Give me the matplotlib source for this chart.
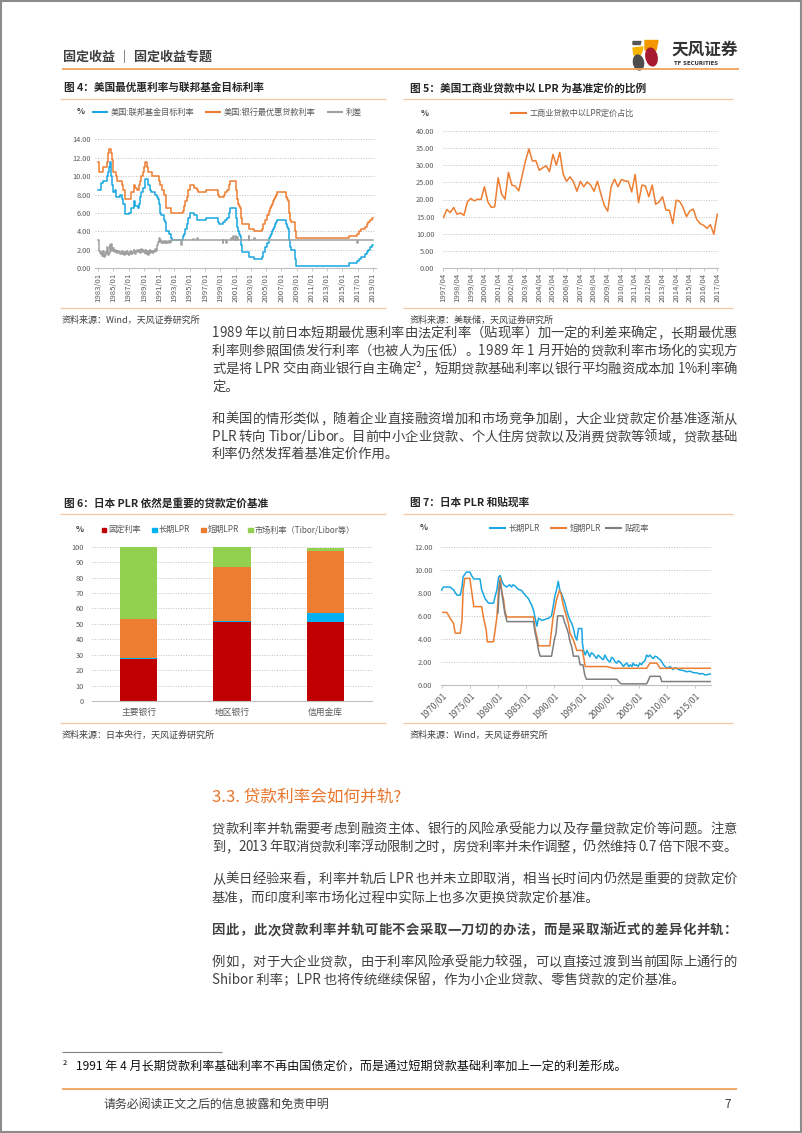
import matplotlib
matplotlib.use('Agg')
import matplotlib.pyplot as plt
from matplotlib.patches import Rectangle, Ellipse, Polygon

plt.rcParams['font.family'] = ['Noto Sans CJK SC', 'DejaVu Sans']
plt.rcParams['axes.unicode_minus'] = False

W, H = 802, 1133

########## 数据 ##########

# 图4 美国：联邦基金目标利率 / 银行最优惠贷款利率（变动点）
us_fed = [('1983-01', 8.5), ('1983-05', 8.75), ('1983-06', 9.25), ('1983-08', 9.5),
          ('1984-03', 10.0), ('1984-04', 10.5), ('1984-06', 11.0), ('1984-08', 11.5),
          ('1984-10', 10.0), ('1984-11', 9.0), ('1984-12', 8.25), ('1985-03', 8.5),
          ('1985-05', 7.75), ('1985-12', 8.0), ('1986-03', 7.5), ('1986-04', 7.0),
          ('1986-07', 6.5), ('1986-08', 5.875), ('1987-01', 6.0), ('1987-04', 6.5),
          ('1987-09', 7.25), ('1987-11', 6.75), ('1988-03', 6.5), ('1988-05', 7.0),
          ('1988-07', 7.75), ('1988-09', 8.25), ('1988-12', 8.75), ('1989-02', 9.75),
          ('1989-07', 9.0), ('1989-10', 8.5), ('1989-12', 8.25), ('1990-07', 8.0),
          ('1990-10', 7.75), ('1990-11', 7.5), ('1990-12', 7.0), ('1991-02', 6.25),
          ('1991-03', 6.0), ('1991-04', 5.75), ('1991-08', 5.5), ('1991-09', 5.25),
          ('1991-10', 5.0), ('1991-11', 4.5), ('1991-12', 4.0), ('1992-04', 3.75),
          ('1992-07', 3.25), ('1992-09', 3.0), ('1994-02', 3.25), ('1994-03', 3.5),
          ('1994-04', 3.75), ('1994-05', 4.25), ('1994-08', 4.75), ('1994-11', 5.5),
          ('1995-02', 6.0), ('1995-07', 5.75), ('1995-12', 5.5), ('1996-01', 5.25),
          ('1997-03', 5.5), ('1998-09', 5.25), ('1998-10', 5.0), ('1998-11', 4.75),
          ('1999-06', 5.0), ('1999-08', 5.25), ('1999-11', 5.5), ('2000-02', 5.75),
          ('2000-03', 6.0), ('2000-05', 6.5), ('2001-01', 5.5), ('2001-03', 5.0),
          ('2001-04', 4.5), ('2001-05', 4.0), ('2001-06', 3.75), ('2001-08', 3.5),
          ('2001-09', 3.0), ('2001-10', 2.5), ('2001-11', 2.0), ('2001-12', 1.75),
          ('2002-11', 1.25), ('2003-06', 1.0), ('2004-06', 1.25), ('2004-08', 1.5),
          ('2004-09', 1.75), ('2004-11', 2.0), ('2004-12', 2.25), ('2005-02', 2.5),
          ('2005-03', 2.75), ('2005-05', 3.0), ('2005-06', 3.25), ('2005-08', 3.5),
          ('2005-09', 3.75), ('2005-11', 4.0), ('2005-12', 4.25), ('2006-01', 4.5),
          ('2006-03', 4.75), ('2006-05', 5.0), ('2006-06', 5.25), ('2007-09', 4.75),
          ('2007-10', 4.5), ('2007-12', 4.25), ('2008-01', 3.0), ('2008-03', 2.25),
          ('2008-04', 2.0), ('2008-10', 1.0), ('2008-12', 0.25), ('2015-12', 0.5),
          ('2016-12', 0.75), ('2017-03', 1.0), ('2017-06', 1.25), ('2017-12', 1.5),
          ('2018-03', 1.75), ('2018-06', 2.0), ('2018-09', 2.25), ('2018-12', 2.5),
          ('2019-01', 2.5)]

us_prime = [('1983-01', 11.5), ('1983-02', 11.0), ('1983-03', 10.5), ('1983-08', 11.0),
            ('1984-03', 11.5), ('1984-04', 12.0), ('1984-05', 12.5), ('1984-06', 13.0),
            ('1984-09', 12.75), ('1984-10', 12.5), ('1984-11', 11.75), ('1984-12', 10.75),
            ('1985-01', 10.5), ('1985-05', 10.0), ('1985-06', 9.5), ('1986-03', 9.0),
            ('1986-04', 8.5), ('1986-07', 8.0), ('1986-08', 7.5), ('1987-04', 7.75),
            ('1987-05', 8.25), ('1987-09', 8.75), ('1987-10', 9.0), ('1987-11', 8.75),
            ('1988-02', 8.5), ('1988-05', 9.0), ('1988-07', 9.5), ('1988-08', 10.0),
            ('1988-11', 10.5), ('1989-01', 11.0), ('1989-02', 11.5), ('1989-06', 11.0),
            ('1989-07', 10.5), ('1990-01', 10.0), ('1991-01', 9.5), ('1991-02', 9.0),
            ('1991-05', 8.5), ('1991-09', 8.0), ('1991-11', 7.5), ('1991-12', 6.5),
            ('1992-07', 6.0), ('1994-03', 6.25), ('1994-04', 6.75), ('1994-05', 7.25),
            ('1994-08', 7.75), ('1994-11', 8.5), ('1995-02', 9.0), ('1995-07', 8.75),
            ('1995-12', 8.5), ('1996-02', 8.25), ('1997-03', 8.5), ('1998-09', 8.25),
            ('1998-10', 8.0), ('1998-11', 7.75), ('1999-07', 8.0), ('1999-08', 8.25),
            ('1999-11', 8.5), ('2000-02', 8.75), ('2000-03', 9.0), ('2000-05', 9.5),
            ('2001-01', 9.0), ('2001-02', 8.5), ('2001-03', 8.0), ('2001-04', 7.5),
            ('2001-05', 7.0), ('2001-06', 6.75), ('2001-08', 6.5), ('2001-09', 6.0),
            ('2001-10', 5.5), ('2001-11', 5.0), ('2001-12', 4.75), ('2002-11', 4.25),
            ('2003-06', 4.0), ('2004-06', 4.25), ('2004-08', 4.5), ('2004-09', 4.75),
            ('2004-11', 5.0), ('2004-12', 5.25), ('2005-02', 5.5), ('2005-03', 5.75),
            ('2005-05', 6.0), ('2005-06', 6.25), ('2005-08', 6.5), ('2005-09', 6.75),
            ('2005-11', 7.0), ('2005-12', 7.25), ('2006-01', 7.5), ('2006-03', 7.75),
            ('2006-05', 8.0), ('2006-06', 8.25), ('2007-09', 7.75), ('2007-10', 7.5),
            ('2007-12', 7.25), ('2008-01', 6.0), ('2008-03', 5.25), ('2008-04', 5.0),
            ('2008-10', 4.0), ('2008-12', 3.25), ('2015-12', 3.5), ('2016-12', 3.75),
            ('2017-03', 4.0), ('2017-06', 4.25), ('2017-12', 4.5), ('2018-03', 4.75),
            ('2018-06', 5.0), ('2018-09', 5.25), ('2018-12', 5.5), ('2019-01', 5.5)]

# 利差：1983/01-1992/12 逐月
us_spread_early = [
    3.0, 2.4, 1.9, 1.6, 1.5, 1.7, 1.3, 1.5, 1.8, 1.6, 1.2, 1.4,
    1.7, 1.6, 2.3, 1.9, 1.4, 1.6, 2.5, 2.2, 1.9, 2.6, 2.1, 1.8,
    2.2, 1.9, 1.7, 2.0, 1.8, 1.6, 1.9, 1.7, 1.8, 1.6, 1.7, 1.5,
    1.6, 1.8, 1.5, 1.7, 1.6, 1.4, 1.7, 1.5, 1.6, 1.8, 1.5, 1.6,
    1.4, 1.7, 1.5, 1.8, 1.6, 1.5, 1.7, 1.6, 2.0, 1.8, 1.5, 1.7,
    1.9, 2.0, 1.7, 1.9, 1.8, 2.0, 1.6, 1.9, 2.1, 1.8, 1.7, 2.0,
    1.8, 1.6, 1.9, 2.0, 1.5, 1.9, 1.7, 1.4, 1.8, 2.0, 1.6, 1.9,
    1.7, 1.9, 1.6, 1.8, 1.7, 1.9, 2.1, 1.9, 2.2, 2.5, 2.8, 3.0,
    3.3, 2.8, 3.1, 2.9, 2.7, 2.8, 2.7, 2.9, 2.8, 2.7, 2.9, 2.8,
    2.7, 2.8, 2.9, 2.8, 2.7, 2.9, 2.8, 3.0, 3.0, 3.0, 3.0, 3.0]
us_spread_late = [('1993-01', 3.0), ('1993-12', 2.5), ('1994-01', 3.0), ('1995-06', 3.2),
                  ('1995-07', 3.0), ('1996-01', 3.25), ('1996-02', 3.0), ('1999-05', 2.75),
                  ('1999-06', 3.0), ('1999-10', 2.75), ('1999-11', 3.0), ('2000-06', 3.3),
                  ('2000-07', 3.0), ('2000-09', 3.5), ('2000-10', 3.0), ('2001-01', 3.5),
                  ('2001-02', 3.0), ('2001-04', 3.4), ('2001-05', 3.0), ('2002-10', 3.5),
                  ('2002-11', 3.0), ('2003-06', 3.3), ('2003-07', 3.0), ('2016-12', 2.7),
                  ('2017-01', 3.0), ('2019-01', 3.0)]

# 图5 工商业贷款中以LPR定价占比（季度，1997/04 起）
lpr_share = [14.7, 17.1, 16.2, 17.7, 15.7, 16.1, 15.4, 19.3, 20.3, 19.6,
             20.1, 20.0, 23.7, 19.3, 17.7, 17.9, 26.3, 21.6, 20.1, 27.9,
             24.2, 23.9, 22.5, 26.9, 31.3, 34.7, 31.2, 31.3, 28.5, 29.2,
             29.8, 28.1, 33.1, 30.0, 33.7, 27.3, 25.3, 26.6, 25.1, 22.4,
             25.3, 23.7, 25.1, 24.2, 22.4, 25.3, 21.6, 18.3, 16.6, 23.7,
             25.9, 23.7, 25.8, 25.4, 25.3, 22.2, 27.3, 19.1, 24.2, 23.9,
             20.8, 24.2, 18.6, 19.3, 20.8, 16.9, 16.9, 13.0, 19.8, 19.5,
             17.7, 15.0, 16.7, 17.2, 14.2, 13.0, 12.5, 11.6, 12.7, 9.9,
             15.7]
lpr_labels = ['%d/04' % y for y in range(1997, 2018)]

# 图6 日本贷款定价基准构成
banks = ['主要银行', '地区银行', '信用金库']
fixed_rate = [27, 51, 51]
long_lpr = [1, 1, 6]
short_lpr = [25, 35, 40]
market_rate = [47, 13, 2]

# 图7 日本 PLR 和贴现率（年份小数, 值）
jp_long = [(1970.0, 8.25), (1970.3, 8.5), (1971.5, 8.5), (1972.1, 8.25), (1972.7, 7.8),
           (1973.3, 7.8), (1973.6, 8.5), (1973.8, 9.4), (1974.4, 9.8), (1975.0, 9.8),
           (1975.3, 9.5), (1975.7, 9.2), (1976.8, 9.2), (1977.1, 8.25), (1977.7, 7.5),
           (1978.3, 7.1), (1979.2, 7.1), (1979.5, 7.7), (1979.8, 8.25), (1980.1, 9.35),
           (1980.4, 9.5), (1980.7, 9.0), (1981.0, 8.7), (1981.5, 8.5), (1982.1, 8.7),
           (1982.4, 8.5), (1982.7, 8.7), (1983.0, 8.6), (1983.6, 8.3), (1984.2, 8.2),
           (1984.8, 7.8), (1985.4, 7.5), (1985.7, 7.2), (1986.0, 6.9), (1986.3, 6.5),
           (1986.6, 5.8), (1986.9, 5.1), (1987.2, 5.8), (1987.8, 5.6), (1989.0, 5.8),
           (1989.5, 6.0), (1989.8, 6.8), (1990.1, 7.7), (1990.4, 8.25), (1990.7, 9.0),
           (1991.0, 8.2), (1991.3, 7.9), (1991.6, 7.5), (1991.9, 7.1), (1992.2, 6.5),
           (1992.5, 6.0), (1992.8, 5.6), (1993.1, 5.35), (1993.4, 4.9), (1993.7, 4.2),
           (1994.0, 3.9), (1994.3, 4.9), (1994.9, 4.9), (1995.0, 3.6), (1995.2, 3.0),
           (1995.5, 2.6), (1995.8, 3.0), (1996.1, 2.7), (1996.3, 2.45), (1996.6, 2.8),
           (1996.9, 2.7), (1997.2, 2.5), (1997.5, 2.3), (1997.8, 2.6), (1998.1, 2.45),
           (1998.4, 2.3), (1998.7, 2.2), (1999.0, 2.6), (1999.3, 2.3), (1999.6, 2.1),
           (1999.9, 2.0), (2000.2, 2.4), (2000.5, 2.3), (2000.8, 2.0), (2001.1, 1.9),
           (2001.4, 2.1), (2001.7, 2.0), (2002.0, 1.8), (2002.3, 1.6), (2002.6, 1.8),
           (2002.9, 1.9), (2003.2, 1.6), (2003.5, 1.75), (2003.8, 1.6), (2004.0, 1.9),
           (2004.3, 1.7), (2004.6, 1.75), (2004.9, 1.6), (2005.2, 1.9), (2005.5, 1.75),
           (2005.8, 2.0), (2006.1, 2.1), (2006.4, 2.6), (2006.7, 2.45), (2007.0, 2.6),
           (2007.3, 2.4), (2007.6, 2.3), (2007.9, 2.5), (2008.2, 2.45), (2008.5, 2.3),
           (2008.8, 2.2), (2009.1, 2.0), (2009.4, 1.75), (2009.7, 1.6), (2010.0, 1.45),
           (2010.6, 1.6), (2011.1, 1.35), (2011.5, 1.5), (2012.3, 1.3), (2013.0, 1.25),
           (2013.5, 1.15), (2014.1, 1.2), (2014.7, 1.07), (2015.3, 1.05), (2015.9, 0.95),
           (2016.3, 1.0), (2016.8, 0.87), (2017.7, 0.95)]
jp_short = [(1970.2, 6.3), (1970.9, 6.3), (1971.5, 5.8), (1972.1, 5.35), (1972.4, 4.5),
            (1973.3, 4.5), (1973.6, 5.6), (1973.8, 8.2), (1974.1, 9.25), (1975.0, 9.25),
            (1975.3, 8.2), (1975.7, 6.8), (1977.1, 6.8), (1977.4, 5.9), (1977.9, 4.8),
            (1978.1, 3.75), (1979.2, 3.75), (1979.5, 4.8), (1979.8, 5.9), (1980.1, 8.2),
            (1980.4, 9.3), (1980.7, 8.0), (1981.0, 7.4), (1981.2, 6.5), (1981.5, 5.9),
            (1986.3, 5.9), (1986.6, 4.8), (1986.9, 4.2), (1987.2, 3.4), (1989.2, 3.4),
            (1989.5, 4.7), (1989.8, 5.9), (1990.4, 7.4), (1990.9, 8.2), (1991.2, 7.9),
            (1991.6, 6.9), (1992.2, 5.9), (1992.5, 5.35), (1992.8, 4.5), (1993.4, 3.9),
            (1994.0, 3.0), (1995.0, 3.0), (1995.5, 1.6), (1999.3, 1.6), (2000.5, 1.45),
            (2006.4, 1.45), (2007.0, 1.9), (2008.2, 1.9), (2008.8, 1.45), (2017.7, 1.45)]
jp_discount = [(1980.0, 6.25), (1980.1, 7.25), (1980.3, 9.0), (1980.6, 8.25), (1980.9, 7.25),
               (1981.2, 6.25), (1981.6, 5.5), (1986.3, 5.5), (1986.6, 4.5), (1986.9, 3.9),
               (1987.2, 3.0), (1987.5, 2.5), (1989.5, 2.5), (1989.8, 3.3), (1990.0, 3.9),
               (1990.3, 4.5), (1990.6, 6.0), (1991.5, 6.0), (1991.8, 5.5), (1992.1, 5.1),
               (1992.5, 4.5), (1992.8, 3.75), (1993.1, 3.3), (1993.4, 2.5), (1994.3, 2.5),
               (1994.6, 1.75), (1995.1, 1.75), (1995.4, 0.9), (1995.7, 0.5), (2001.1, 0.5),
               (2001.4, 0.3), (2001.9, 0.1), (2006.4, 0.1), (2006.7, 0.4), (2007.0, 0.75),
               (2008.8, 0.75), (2009.1, 0.3), (2017.7, 0.3)]

########## 正文 ##########

para_lines = [  # (文字, y, 两端对齐, 粗体)
    ('1989 年以前日本短期最优惠利率由法定利率（贴现率）加一定的利差来确定，长期最优惠', 333, True, False),
    ('利率则参照国债发行利率（也被人为压低）。1989 年 1 月开始的贷款利率市场化的实现方', 351, True, False),
    ('式是将 LPR 交由商业银行自主确定²，短期贷款基础利率以银行平均融资成本加 1%利率确', 369, True, False),
    ('定。', 387, False, False),
    ('和美国的情形类似，随着企业直接融资增加和市场竞争加剧，大企业贷款定价基准逐渐从', 419, True, False),
    ('PLR 转向 Tibor/Libor。目前中小企业贷款、个人住房贷款以及消费贷款等领域，贷款基础', 437, True, False),
    ('利率仍然发挥着基准定价作用。', 455, False, False),
    ('贷款利率并轨需要考虑到融资主体、银行的风险承受能力以及存量贷款定价等问题。注意', 829, True, False),
    ('到，2013 年取消贷款利率浮动限制之时，房贷利率并未作调整，仍然维持 0.7 倍下限不变。', 847, True, False),
    ('从美日经验来看，利率并轨后 LPR 也并未立即取消，相当长时间内仍然是重要的贷款定价', 879, True, False),
    ('基准，而印度利率市场化过程中实际上也多次更换贷款定价基准。', 898, False, False),
    ('因此，此次贷款利率并轨可能不会采取一刀切的办法，而是采取渐近式的差异化并轨：', 930, True, True),
    ('例如，对于大企业贷款，由于利率风险承受能力较强，可以直接过渡到当前国际上通行的', 962, True, False),
    ('Shibor 利率；LPR 也将传统继续保留，作为小企业贷款、零售贷款的定价基准。', 980, False, False),
]

########## 画图 ##########

BLUE = '#1AA7E0'
ORANGE = '#ED7D31'
GRID = '#BFBFBF'
TICK = '#595959'
TXT = '#404040'
LINE_LIGHT = '#F4C7A1'


def ym(s):
    y, m = s.split('-')
    return int(y) + (int(m) - 1) / 12.0


fig = plt.figure(figsize=(W / 100, H / 100), dpi=100)
pg = fig.add_axes([0, 0, 1, 1])
pg.set_xlim(0, W)
pg.set_ylim(H, 0)
pg.axis('off')
r = fig.canvas.get_renderer()


def chart_axes(x0, y0, x1, y1):
    ax = fig.add_axes([x0 / W, 1 - y1 / H, (x1 - x0) / W, (y1 - y0) / H])
    ax.set_facecolor('none')
    for s in ('left', 'right', 'top'):
        ax.spines[s].set_visible(False)
    ax.spines['bottom'].set_color(GRID)
    ax.spines['bottom'].set_linewidth(0.8)
    ax.yaxis.grid(True, color=GRID, linestyle=(0, (1, 1.6)), linewidth=0.7)
    ax.set_axisbelow(True)
    ax.tick_params(axis='y', length=0, pad=3, labelsize=5.3, labelcolor=TICK)
    ax.tick_params(axis='x', length=2.5, width=0.6, color=GRID, pad=1,
                   labelsize=5.6, labelcolor=TICK)
    return ax


def hline(x0, x1, y, color, lw):
    pg.plot([x0, x1], [y, y], color=color, lw=lw, solid_capstyle='butt')


def text_w(s, size, weight):
    t = pg.text(0, 0, s, fontsize=size, fontweight=weight)
    w = t.get_window_extent(renderer=r).width
    t.remove()
    return w


def body_line(s, y, justify, bold, x0=212, x1=737, size=9.6, color=TXT):
    weight = 'bold' if bold else 'normal'
    if not justify:
        pg.text(x0, y, s, fontsize=size, fontweight=weight, color=color, va='center')
        return
    bar = text_w('|', size, weight)
    lefts = [0.0] + [text_w(s[:i] + '|', size, weight) - bar for i in range(1, len(s))]
    total = text_w(s, size, weight)
    gap = (x1 - x0 - total) / (len(s) - 1)
    for i, ch in enumerate(s):
        if ch != ' ':
            pg.text(x0 + lefts[i] + i * gap, y, ch, fontsize=size, fontweight=weight,
                    color=color, va='center')


# 页面边框
pg.add_patch(Rectangle((0.8, 0.8), W - 1.6, H - 1.6, fill=False, ec='#8C8C8C', lw=1.5))

# 页眉
pg.text(63, 57, '固定收益 ｜ 固定收益专题', fontsize=9.4, fontweight='bold', color=TXT, va='center')
hline(62, 739, 68.5, '#EFA25A', 1.3)
pg.add_patch(Polygon([(633, 41.5), (641, 41.5), (640, 44.5), (633, 44.5)], color='#555555'))
pg.add_patch(Polygon([(645, 40.5), (658, 40.5), (656, 50), (645, 50)], color='#F39800'))
pg.add_patch(Polygon([(633, 48), (643, 47), (641, 54), (634, 55)], color='#F7B500'))
pg.add_patch(Ellipse((638.5, 62.5), 10, 15, angle=-10, color='#4D4D4D'))
pg.add_patch(Ellipse((651.5, 57), 11, 18, angle=-12, color='#A6192E'))
pg.text(671, 50, '天风证券', fontsize=12, fontweight='bold', color='#333333', va='center')
pg.text(674, 63.5, 'TF SECURITIES', fontsize=3.9, fontweight='bold', color='#333333',
        va='center', family='DejaVu Sans')

# 图标题、分隔线、来源
for x, y, t in [(64, 88, '图 4：美国最优惠利率与联邦基金目标利率'),
                (410, 88, '图 5：美国工商业贷款中以 LPR 为基准定价的比例'),
                (64, 503, '图 6：日本 PLR 依然是重要的贷款定价基准'),
                (410, 503, '图 7：日本 PLR 和贴现率')]:
    pg.text(x, y, t, fontsize=7.7, fontweight='bold', color='#262626', va='center')
for y in (99, 514, 308, 723):
    hline(60, 386, y, LINE_LIGHT, 0.9)
    hline(403, 733, y, LINE_LIGHT, 0.9)
for x, y, t in [(62, 320, '资料来源：Wind，天风证券研究所'),
                (410, 320, '资料来源：美联储，天风证券研究所'),
                (62, 735, '资料来源：日本央行，天风证券研究所'),
                (410, 735, '资料来源：Wind，天风证券研究所')]:
    pg.text(x, y, t, fontsize=6.5, color=TXT, va='center')

# ---- 图4 ----
ax4 = chart_axes(95, 139.5, 376, 268)
ax4.step([ym(d) for d, v in us_fed], [v for d, v in us_fed], where='post', color=BLUE, lw=1.1)
ax4.step([ym(d) for d, v in us_prime], [v for d, v in us_prime], where='post', color=ORANGE, lw=1.1)
sx = [1983 + i / 12.0 for i in range(len(us_spread_early))] + [ym(d) for d, v in us_spread_late]
sy = us_spread_early + [v for d, v in us_spread_late]
ax4.step(sx, sy, where='post', color='#A0A0A0', lw=1.1)
ax4.set_xlim(1982.6, 2019.4)
ax4.set_ylim(0, 14)
ax4.set_yticks(range(0, 15, 2))
ax4.set_yticklabels(['%.2f' % v for v in range(0, 15, 2)])
ax4.set_xticks(range(1983, 2020, 2))
ax4.set_xticklabels(['%d/01' % y for y in range(1983, 2020, 2)], rotation=90)

pg.text(77, 112, '%', fontsize=6, fontweight='bold', color=TXT, va='center')
for x0, c, t in [(92, BLUE, '美国:联邦基金目标利率'), (205, ORANGE, '美国:银行最优惠贷款利率'),
                 (327, '#A0A0A0', '利差')]:
    hline(x0, x0 + 16, 112, c, 1.5)
    pg.text(x0 + 18.5, 112, t, fontsize=5.9, color=TICK, va='center')

# ---- 图5 ----
ax5 = chart_axes(442.7, 130.7, 718.3, 268.3)
ax5.plot(range(len(lpr_share)), lpr_share, color=ORANGE, lw=1.1)
ax5.set_xlim(-0.2, 80.3)
ax5.set_ylim(0, 40)
ax5.set_yticks(range(0, 41, 5))
ax5.set_yticklabels(['%.2f' % v for v in range(0, 41, 5)])
ax5.tick_params(axis='y', pad=6)
ax5.set_xticks(range(0, 81, 4))
ax5.set_xticklabels(lpr_labels, rotation=90)

pg.text(421, 113, '%', fontsize=6, fontweight='bold', color=TXT, va='center')
hline(510, 527, 113, ORANGE, 1.5)
pg.text(529.5, 113, '工商业贷款中以LPR定价占比', fontsize=5.9, color=TICK, va='center')

# ---- 图6 ----
ax6 = chart_axes(92, 546.7, 372, 701)
pos = range(len(banks))
b1 = [a + b for a, b in zip(fixed_rate, long_lpr)]
b2 = [a + b for a, b in zip(b1, short_lpr)]
ax6.bar(pos, fixed_rate, width=0.4, color='#C00000')
ax6.bar(pos, long_lpr, width=0.4, bottom=fixed_rate, color='#00B0F0')
ax6.bar(pos, short_lpr, width=0.4, bottom=b1, color=ORANGE)
ax6.bar(pos, market_rate, width=0.4, bottom=b2, color='#92D050')
ax6.set_xlim(-0.5, 2.5)
ax6.set_ylim(0, 100)
ax6.set_yticks(range(0, 101, 10))
ax6.tick_params(axis='y', pad=6)
ax6.set_xticks(list(pos))
ax6.set_xticklabels(banks)
ax6.tick_params(axis='x', length=0, pad=5, labelsize=6.3)

pg.text(76, 530, '%', fontsize=6, fontweight='bold', color=TXT, va='center')
for x0, c, t in [(101.5, '#C00000', '固定利率'), (152, '#00B0F0', '长期LPR'),
                 (201, ORANGE, '短期LPR'), (248, '#92D050', '市场利率（Tibor/Libor等）')]:
    pg.add_patch(Rectangle((x0, 527.5), 4.5, 4.5, color=c))
    pg.text(x0 + 6.5, 529.5, t, fontsize=5.9, color=TICK, va='center')

# ---- 图7 ----
ax7 = chart_axes(440.7, 546.7, 710.5, 685)
ax7.plot([a for a, b in jp_long], [b for a, b in jp_long], color=BLUE, lw=1.1)
ax7.plot([a for a, b in jp_short], [b for a, b in jp_short], color=ORANGE, lw=1.1)
ax7.plot([a for a, b in jp_discount], [b for a, b in jp_discount], color='#7F7F7F', lw=1.1)
ax7.set_xlim(1969.82, 2017.75)
ax7.set_ylim(0, 12)
ax7.set_yticks(range(0, 13, 2))
ax7.set_yticklabels(['%.2f' % v for v in range(0, 13, 2)])
ax7.tick_params(axis='y', pad=6)
ax7.set_xticks(range(1970, 2016, 5))
ax7.set_xticklabels(['%d/01' % y for y in range(1970, 2016, 5)], rotation=45,
                    ha='right', va='top', rotation_mode='anchor')
ax7.tick_params(axis='x', labelsize=6.3, pad=2)

pg.text(420, 528, '%', fontsize=6, fontweight='bold', color=TXT, va='center')
for x0, c, t in [(489, BLUE, '长期PLR'), (550, ORANGE, '短期PLR'), (605, '#7F7F7F', '贴现率')]:
    hline(x0, x0 + 17, 528, c, 1.5)
    pg.text(x0 + 19.5, 528, t, fontsize=5.9, color=TICK, va='center')

# ---- 正文 ----
for s, y, just, bold in para_lines:
    body_line(s, y, just, bold)
pg.text(212, 797, '3.3. 贷款利率会如何并轨?', fontsize=12, color='#E8762D', va='center')

# 脚注与页脚
hline(62, 222, 1052, '#808080', 0.8)
pg.text(63, 1063, '2', fontsize=5.5, color='#000000', va='center')
pg.text(76, 1066, '1991 年 4 月长期贷款利率基础利率不再由国债定价，而是通过短期贷款基础利率加上一定的利差形成。',
        fontsize=8.7, color='#111111', va='center')
hline(62, 737, 1089, '#EFA25A', 1.3)
pg.text(104, 1104, '请务必阅读正文之后的信息披露和免责申明', fontsize=8.6, color=TXT, va='center')
pg.text(731, 1104, '7', fontsize=8.6, color=TXT, va='center', ha='right')

fig.savefig('out.png', dpi=100)
